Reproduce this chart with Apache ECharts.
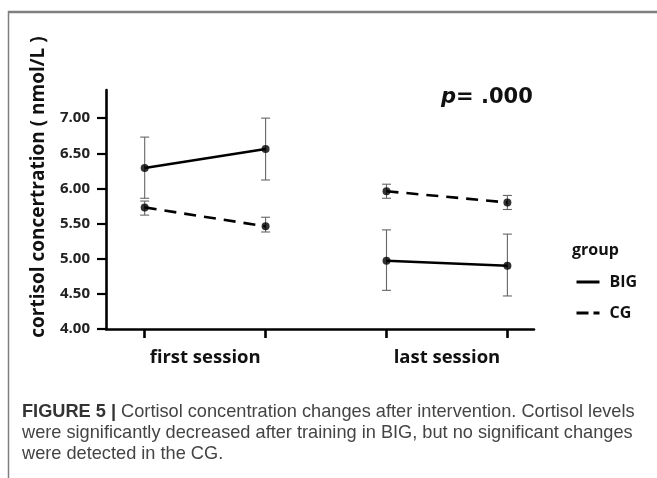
<!DOCTYPE html>
<html>
<head>
<meta charset="utf-8">
<script src="https://cdn.jsdelivr.net/npm/echarts@6/dist/echarts.min.js"></script>
<style>
html,body{margin:0;padding:0;background:#fff;}
#chart{width:657px;height:478px;}
</style>
</head>
<body>
<div id="chart"></div>
<script>
// ---- data ----
var sessionLabels = ['first session', 'last session'];
var xPos = [1, 2, 3, 4];                 // pre/post of each session
var bigMean = [6.29, 6.56, 4.97, 4.90];
var bigLow  = [5.86, 6.12, 4.55, 4.47];
var bigHigh = [6.73, 7.00, 5.41, 5.35];
var cgMean  = [5.73, 5.46, 5.96, 5.80];
var cgLow   = [5.62, 5.38, 5.86, 5.70];
var cgHigh  = [5.82, 5.59, 6.06, 5.90];
var yTicks  = [4.0, 4.5, 5.0, 5.5, 6.0, 6.5, 7.0];
var groupNames = ['BIG', 'CG'];
var pText = '= .000';

var chart = echarts.init(document.getElementById('chart'), null, {renderer: 'canvas'});

function segs(name, means, dash) {
  var out = [];
  for (var s = 0; s < 2; s++) {
    out.push({
      type: 'line', name: name, symbol: 'none', z: 3, color: '#000',
      lineStyle: {color: '#000', width: 2.6, type: dash ? [12, 8] : 'solid'},
      data: [[xPos[2*s], means[2*s]], [xPos[2*s+1], means[2*s+1]]]
    });
  }
  return out;
}
function pts(name, means) {
  return {
    type: 'scatter', name: name, symbol: 'circle', symbolSize: 8, z: 4,
    itemStyle: {color: '#000'},
    data: xPos.map(function (x, i) { return [x, means[i]]; })
  };
}
function errs(name, lows, highs) {
  return {
    type: 'custom', name: name, z: 2,
    data: xPos.map(function (x, i) { return [x, lows[i], highs[i]]; }),
    renderItem: function (params, api) {
      var lo = api.coord([api.value(0), api.value(1)]);
      var hi = api.coord([api.value(0), api.value(2)]);
      var w = 4.5;
      var st = {stroke: '#666', lineWidth: 1.1};
      return {type: 'group', children: [
        {type: 'line', shape: {x1: lo[0], y1: lo[1], x2: hi[0], y2: hi[1]}, style: st},
        {type: 'line', shape: {x1: lo[0]-w, y1: lo[1], x2: lo[0]+w, y2: lo[1]}, style: st},
        {type: 'line', shape: {x1: hi[0]-w, y1: hi[1], x2: hi[0]+w, y2: hi[1]}, style: st}
      ]};
    }
  };
}

var series = [].concat(
  [errs('BIG err', bigLow, bigHigh), errs('CG err', cgLow, cgHigh)],
  segs(groupNames[0], bigMean, false),
  segs(groupNames[1], cgMean, true),
  [pts('BIG pts', bigMean), pts('CG pts', cgMean)]
);

var option = {
  animation: false,
  backgroundColor: '#fff',
  grid: {left: 106, top: 90, width: 428, height: 239, containLabel: false},
  xAxis: {
    type: 'value', min: 0.68, max: 4.22,
    splitLine: {show: false},
    axisLine: {lineStyle: {color: '#000', width: 2.6}},
    axisTick: {customValues: xPos, length: 9, lineStyle: {color: '#000', width: 2.6}},
    axisLabel: {
      customValues: [1.5, 3.5],
      formatter: function (v) { return v < 2.5 ? sessionLabels[0] : sessionLabels[1]; },
      fontFamily: 'Open Sans', fontWeight: 'bold', fontSize: 18.5, color: '#111', margin: 19
    }
  },
  yAxis: {
    type: 'value', min: 4, max: 7.4, interval: 0.5,
    splitLine: {show: false},
    axisLine: {show: true, lineStyle: {color: '#000', width: 2.6}},
    axisTick: {show: true, customValues: yTicks, length: 9, lineStyle: {color: '#000', width: 2.2}},
    axisLabel: {
      customValues: yTicks,
      formatter: function (v) { return v.toFixed(2); },
      fontFamily: 'Open Sans', fontWeight: 'bold', fontSize: 15, color: '#222', margin: 16
    },
    name: 'cortisol concertration ( nmol/L )',
    nameLocation: 'middle', nameGap: 58,
    nameTextStyle: {fontFamily: 'Open Sans', fontWeight: 'bold', fontSize: 19, color: '#111', padding: [0, 0, 0, 45]}
  },
  legend: {
    data: [{name: groupNames[0]}, {name: groupNames[1], lineStyle: {type: [12, 5]}}],
    orient: 'vertical', left: 575, top: 274, padding: 0,
    itemWidth: 23, itemHeight: 14, itemGap: 15,
    itemStyle: {opacity: 0},
    lineStyle: {width: 3, color: '#000'},
    textStyle: {fontFamily: 'Open Sans', fontWeight: 'bold', fontSize: 16, lineHeight: 16, color: '#111', padding: [0, 0, 0, 5]}
  },
  graphic: [
    {type: 'line', shape: {x1: 8, y1: 12, x2: 657, y2: 12}, style: {stroke: '#7f7f7f', lineWidth: 2.5}},
    {type: 'line', shape: {x1: 8.5, y1: 11, x2: 8.5, y2: 478}, style: {stroke: '#7f7f7f', lineWidth: 1.5}},
    {type: 'text', left: 441, top: 87, style: {
      text: '{p|p}{v|' + pText + '}',
      rich: {
        p: {fontFamily: 'DejaVu Sans', fontStyle: 'italic', fontWeight: 'bold', fontSize: 21, fill: '#111'},
        v: {fontFamily: 'DejaVu Sans', fontWeight: 'bold', fontSize: 21, fill: '#111'}
      }
    }},
    {type: 'text', left: 572, top: 242, style: {
      text: 'group', fontFamily: 'Open Sans', fontWeight: 'bold', fontSize: 16, fill: '#111'
    }},
    {type: 'text', left: 22, top: 403, style: {
      text: '{b|FIGURE 5 |}{r| Cortisol concentration changes after intervention. Cortisol levels}\n{r|were significantly decreased after training in BIG, but no significant changes}\n{r|were detected in the CG.}',
      rich: {
        b: {fontFamily: 'Liberation Sans', fontWeight: 'bold', fontSize: 18.2, lineHeight: 21, fill: '#333'},
        r: {fontFamily: 'Liberation Sans', fontSize: 18.2, lineHeight: 21, fill: '#444'}
      }
    }}
  ],
  series: series
};
chart.setOption(option);
</script>
</body>
</html>
